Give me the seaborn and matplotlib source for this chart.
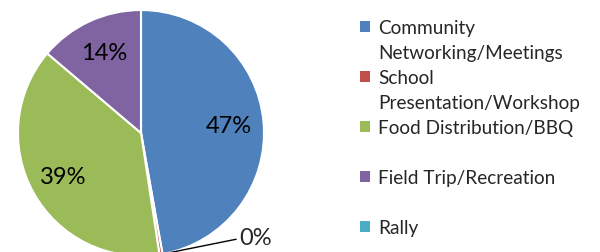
import matplotlib
matplotlib.use("Agg")
import matplotlib.pyplot as plt
import matplotlib.patches as mpatches
import numpy as np
import seaborn as sns

categories = ["Community\nNetworking/Meetings", "School\nPresentation/Workshop",
              "Food Distribution/BBQ", "Field Trip/Recreation", "Rally"]
shares = [47.2, 0.4, 38.6, 13.8, 0.0]
colors = ["#4F81BD", "#C0504D", "#9BBB59", "#8064A2", "#4BACC6"]

sns.set_theme(style="white")
plt.rcParams['font.family'] = ['Lato', 'DejaVu Sans']

fig = plt.figure(figsize=(6, 2.53), dpi=100)
# pie centre at (141,133) px, radius 123 px
ax = fig.add_axes([18/600, (253-257)/253, 246/600, 246/253])

def pct(p):
    return '%.0f%%' % p if p >= 1 else ''

wedges, texts, autotexts = ax.pie(shares, colors=colors, startangle=90, counterclock=False,
                                  autopct=pct, pctdistance=0.72,
                                  wedgeprops=dict(edgecolor='white', linewidth=1.5),
                                  textprops=dict(fontsize=17, color='black'))
ax.set_xlim(-1, 1)
ax.set_ylim(-1, 1)
ax.set_aspect('equal')
ax.axis('off')

# small slice label with leader line
w = wedges[1]
ang = np.deg2rad((w.theta1 + w.theta2) / 2)
ax.annotate('%.0f%%' % shares[1], xy=(np.cos(ang), np.sin(ang)), xytext=(0.8, -0.85),
            fontsize=17, va='center', ha='left',
            arrowprops=dict(arrowstyle='-', color='black', lw=1, relpos=(0, 0.45),
                            shrinkA=0, shrinkB=0),
            annotation_clip=False)

# legend: one row per text line, marker on first line of each entry
handles, labels = [], []
for lab, col in zip(categories, colors):
    lines = lab.split('\n')
    if len(lines) == 1:
        lines.append('')
    for i, ln in enumerate(lines):
        if i == 0:
            handles.append(mpatches.Patch(facecolor=col, edgecolor='none'))
        else:
            handles.append(mpatches.Patch(facecolor='none', edgecolor='none'))
        labels.append(ln)

fig.legend(handles, labels, loc='upper left', bbox_to_anchor=(360/600, 1 - 20/253),
           frameon=False, fontsize=13.7, handlelength=0.5, handleheight=0.5,
           handletextpad=0.45, labelspacing=0.42, borderpad=0, borderaxespad=0)

fig.savefig('out.png', dpi=100)
